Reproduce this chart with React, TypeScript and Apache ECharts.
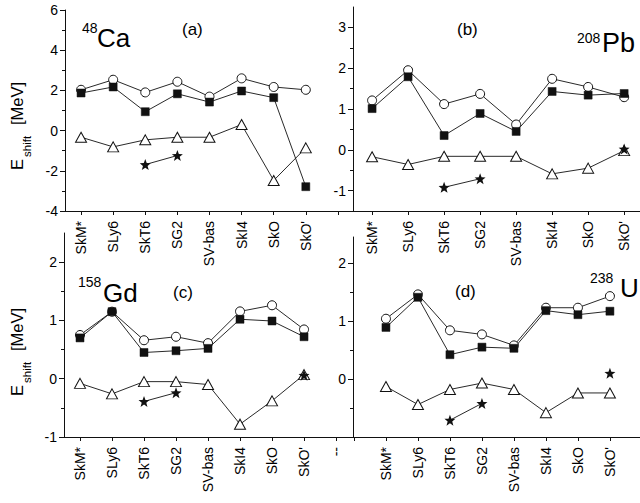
import React, { useEffect, useRef } from 'react';
import * as echarts from 'echarts';

// Category names (Skyrme parametrizations)
const categories = ['SkM*', 'SLy6', 'SkT6', 'SG2', 'SV-bas', 'SkI4', 'SkO', "SkO'"];
const clippedLabelC = '--';

// Panel (a): 48Ca
const caCircles = [2.03, 2.53, 1.9, 2.43, 1.69, 2.6, 2.17, 2.03];
const caSquares = [1.87, 2.17, 0.94, 1.83, 1.42, 1.97, 1.64, -2.79];
const caTriangles = [-0.33, -0.81, -0.46, -0.33, -0.33, 0.3, -2.48, -0.86];
const caStars = [null, null, -1.69, -1.24, null, null, null, null];

// Panel (b): 208Pb
const pbCircles = [1.21, 1.95, 1.12, 1.37, 0.62, 1.74, 1.54, 1.29];
const pbSquares = [1.01, 1.79, 0.35, 0.89, 0.45, 1.43, 1.34, 1.38];
const pbTriangles = [-0.17, -0.36, -0.16, -0.16, -0.16, -0.59, -0.45, -0.02];
const pbStars = [null, null, -0.92, -0.71, null, null, null, 0.02];

// Panel (c): 158Gd
const gdCircles = [0.75, 1.15, 0.66, 0.72, 0.61, 1.155, 1.26, 0.845];
const gdSquares = [0.7, 1.15, 0.45, 0.48, 0.52, 1.02, 0.99, 0.72];
const gdTriangles = [-0.08, -0.26, -0.05, -0.05, -0.1, -0.78, -0.38, 0.07];
const gdStars = [null, null, -0.39, -0.24, null, null, null, 0.06];

// Panel (d): 238U
const uCircles = [1.04, 1.46, 0.84, 0.77, 0.58, 1.23, 1.23, 1.43];
const uSquares = [0.89, 1.41, 0.42, 0.55, 0.53, 1.18, 1.11, 1.17];
const uTriangles = [-0.13, -0.44, -0.18, -0.07, -0.18, -0.58, -0.24, -0.24];
const uStars = [null, null, -0.71, -0.42, null, null, null, 0.1];

// Tick values
const yTicksA = [-4, -2, 0, 2, 4, 6];
const yMinorA = [-3, -1, 1, 3, 5];
const yTicksB = [-1, 0, 1, 2, 3];
const yMinorB = [-0.5, 0.5, 1.5, 2.5];
const yTicksC = [-1, 0, 1, 2];
const yMinorC = [-0.5, 0.5, 1.5];
const yTicksD = [0, 1, 2];
const yMinorD = [-0.5, 0.5, 1.5];

const xTicksA = [0, 1, 2, 3, 4, 5, 6, 7, 8];
const xTicksB = [0, 1, 2, 3, 4, 5, 6, 7];
const xTicksC = [0, 1, 2, 3, 4, 5, 6, 7, 8];
const xTicksD = [-1, 0, 1, 2, 3, 4, 5, 6, 7];
const xLabelIdx = [0, 1, 2, 3, 4, 5, 6, 7];

const FONT = "'Liberation Sans', Arial, Helvetica, sans-serif";
const INK = '#111';
const STAR =
  'path://M12,1 L14.9,8.6 L23,8.9 L16.6,13.9 L18.9,21.8 L12,17.2 L5.1,21.8 L7.4,13.9 L1,8.9 L9.1,8.6 Z';

type Panel = {
  grid: { left: number; top: number; width: number; height: number };
  xMin: number;
  xMax: number;
  xTicks: number[];
  xLabelVals: number[];
  xNames: string[];
  yMin: number;
  yMax: number;
  yTicks: number[];
  yLabels: number[];
  yMinor: number[];
  circles: (number | null)[];
  squares: (number | null)[];
  triangles: (number | null)[];
  stars: (number | null)[];
};

const panels: Panel[] = [
  {
    grid: { left: 65, top: 10, width: 288, height: 201 },
    xMin: -0.5, xMax: 8.47, xTicks: xTicksA, xLabelVals: xLabelIdx, xNames: categories,
    yMin: -4, yMax: 6, yTicks: yTicksA, yLabels: yTicksA, yMinor: yMinorA,
    circles: caCircles, squares: caSquares, triangles: caTriangles, stars: caStars,
  },
  {
    grid: { left: 353, top: 7, width: 287, height: 204 },
    xMin: -0.53, xMax: 7.44, xTicks: xTicksB, xLabelVals: xLabelIdx, xNames: categories,
    yMin: -1.5, yMax: 3.5, yTicks: yTicksB, yLabels: yTicksB, yMinor: yMinorB,
    circles: pbCircles, squares: pbSquares, triangles: pbTriangles, stars: pbStars,
  },
  {
    grid: { left: 64, top: 233, width: 289, height: 204 },
    xMin: -0.5, xMax: 8.53, xTicks: xTicksC, xLabelVals: [...xLabelIdx, 8],
    xNames: [...categories, clippedLabelC],
    yMin: -1, yMax: 2.5, yTicks: yTicksC, yLabels: yTicksC, yMinor: yMinorC,
    circles: gdCircles, squares: gdSquares, triangles: gdTriangles, stars: gdStars,
  },
  {
    grid: { left: 353, top: 237, width: 287, height: 200 },
    xMin: -1.03, xMax: 7.94, xTicks: xTicksD, xLabelVals: xLabelIdx, xNames: categories,
    yMin: -1, yMax: 2.45, yTicks: yTicksD, yLabels: yTicksD, yMinor: yMinorD,
    circles: uCircles, squares: uSquares, triangles: uTriangles, stars: uStars,
  },
];

function txt(text: string, x: number, y: number, size: number) {
  return {
    type: 'text',
    x,
    y,
    silent: true,
    style: {
      text,
      fontSize: size,
      fontFamily: FONT,
      fill: '#000',
      align: 'left',
      verticalAlign: 'middle',
      textAlign: 'left',
      textVerticalAlign: 'middle',
    },
  };
}

function yTitle(x: number, y: number) {
  return {
    type: 'group',
    x,
    y,
    rotation: Math.PI / 2,
    children: [txt('E', 0, 0, 16.5), txt('shift', 13, 10.5, 11.5), txt('[MeV]', 45, 0, 16.5)],
  };
}

function toPts(vals: (number | null)[]) {
  return vals.map((v, i) => [i, v === null ? null : v]);
}

export default function App() {
  const ref = useRef<HTMLDivElement>(null);

  useEffect(() => {
    if (!ref.current) return;
    const chart = echarts.init(ref.current, undefined, { renderer: 'svg' });

    const grid: any[] = [];
    const xAxis: any[] = [];
    const yAxis: any[] = [];
    const series: any[] = [];
    const n = panels.length;

    // main grids (0..3)
    panels.forEach((p, idx) => {
      grid.push({ ...p.grid, containLabel: false });
      const names = p.xNames;
      xAxis.push({
        type: 'value',
        gridIndex: idx,
        position: 'bottom',
        min: p.xMin,
        max: p.xMax,
        splitLine: { show: false },
        axisLine: { show: true, onZero: false, lineStyle: { color: INK, width: 1 } },
        axisTick: {
          show: true,
          customValues: p.xTicks,
          length: 4,
          lineStyle: { color: INK, width: 1 },
        },
        axisLabel: {
          show: true,
          customValues: p.xLabelVals,
          rotate: 90,
          margin: 10,
          fontSize: 14,
          fontFamily: FONT,
          color: '#000',
          formatter: (v: number) => names[Math.round(v)] ?? '',
        },
      });
      yAxis.push({
        type: 'value',
        gridIndex: idx,
        position: 'left',
        min: p.yMin,
        max: p.yMax,
        splitLine: { show: false },
        axisLine: { show: true, onZero: false, lineStyle: { color: INK, width: 1 } },
        axisTick: {
          show: true,
          customValues: p.yTicks,
          length: 5,
          lineStyle: { color: INK, width: 1 },
        },
        axisLabel: {
          show: true,
          customValues: p.yLabels,
          margin: 7,
          fontSize: 14,
          fontFamily: FONT,
          color: '#000',
        },
      });

      const base = {
        type: 'line',
        xAxisIndex: idx,
        yAxisIndex: idx,
        showAllSymbol: true,
        connectNulls: false,
        lineStyle: { color: INK, width: 0.9 },
        emphasis: { disabled: true },
      };
      series.push({
        ...base,
        name: 'circles',
        data: toPts(p.circles),
        symbol: 'circle',
        symbolSize: 9,
        itemStyle: { color: '#fff', borderColor: INK, borderWidth: 1 },
      });
      series.push({
        ...base,
        name: 'squares',
        data: toPts(p.squares),
        symbol: 'rect',
        symbolSize: 8,
        itemStyle: { color: INK, borderColor: INK, borderWidth: 0.5 },
      });
      series.push({
        ...base,
        name: 'triangles',
        data: toPts(p.triangles),
        symbol: 'triangle',
        symbolSize: [11, 10],
        itemStyle: { color: '#fff', borderColor: INK, borderWidth: 1 },
      });
      series.push({
        ...base,
        name: 'stars',
        data: toPts(p.stars),
        symbol: STAR,
        symbolSize: 11,
        itemStyle: { color: INK, borderColor: INK, borderWidth: 0 },
      });
    });

    // overlay grids (4..7) carrying only the minor y ticks
    panels.forEach((p, idx) => {
      const gi = n + idx;
      grid.push({ ...p.grid, containLabel: false });
      xAxis.push({
        type: 'value',
        gridIndex: gi,
        min: p.xMin,
        max: p.xMax,
        show: false,
      });
      yAxis.push({
        type: 'value',
        gridIndex: gi,
        position: 'left',
        min: p.yMin,
        max: p.yMax,
        splitLine: { show: false },
        axisLine: { show: false, onZero: false },
        axisLabel: { show: false },
        axisTick: {
          show: true,
          customValues: p.yMinor,
          length: 3,
          lineStyle: { color: INK, width: 1 },
        },
      });
    });

    const graphic: any[] = [
      // y-axis titles
      yTitle(16.5, 170),
      yTitle(16.5, 396),
      // panel (a)
      txt('48', 82, 28, 14),
      txt('Ca', 97, 38, 26),
      txt('(a)', 182, 29, 17),
      // panel (b)
      txt('(b)', 457, 29, 17),
      txt('208', 577, 38, 14),
      txt('Pb', 602, 43, 27),
      // panel (c)
      txt('158', 78, 282, 14),
      txt('Gd', 103, 293, 26),
      txt('(c)', 173, 292, 17),
      // panel (d)
      txt('(d)', 455, 291, 17),
      txt('238', 590, 278, 14),
      txt('U', 620, 288, 26),
    ];

    chart.setOption({
      animation: false,
      backgroundColor: '#fff',
      textStyle: { fontFamily: FONT },
      grid,
      xAxis,
      yAxis,
      series,
      graphic,
    });

    return () => {
      chart.dispose();
    };
  }, []);

  return (
    <div
      ref={ref}
      style={{ position: 'fixed', left: 0, top: 0, width: 640, height: 503, background: '#fff' }}
    />
  );
}
